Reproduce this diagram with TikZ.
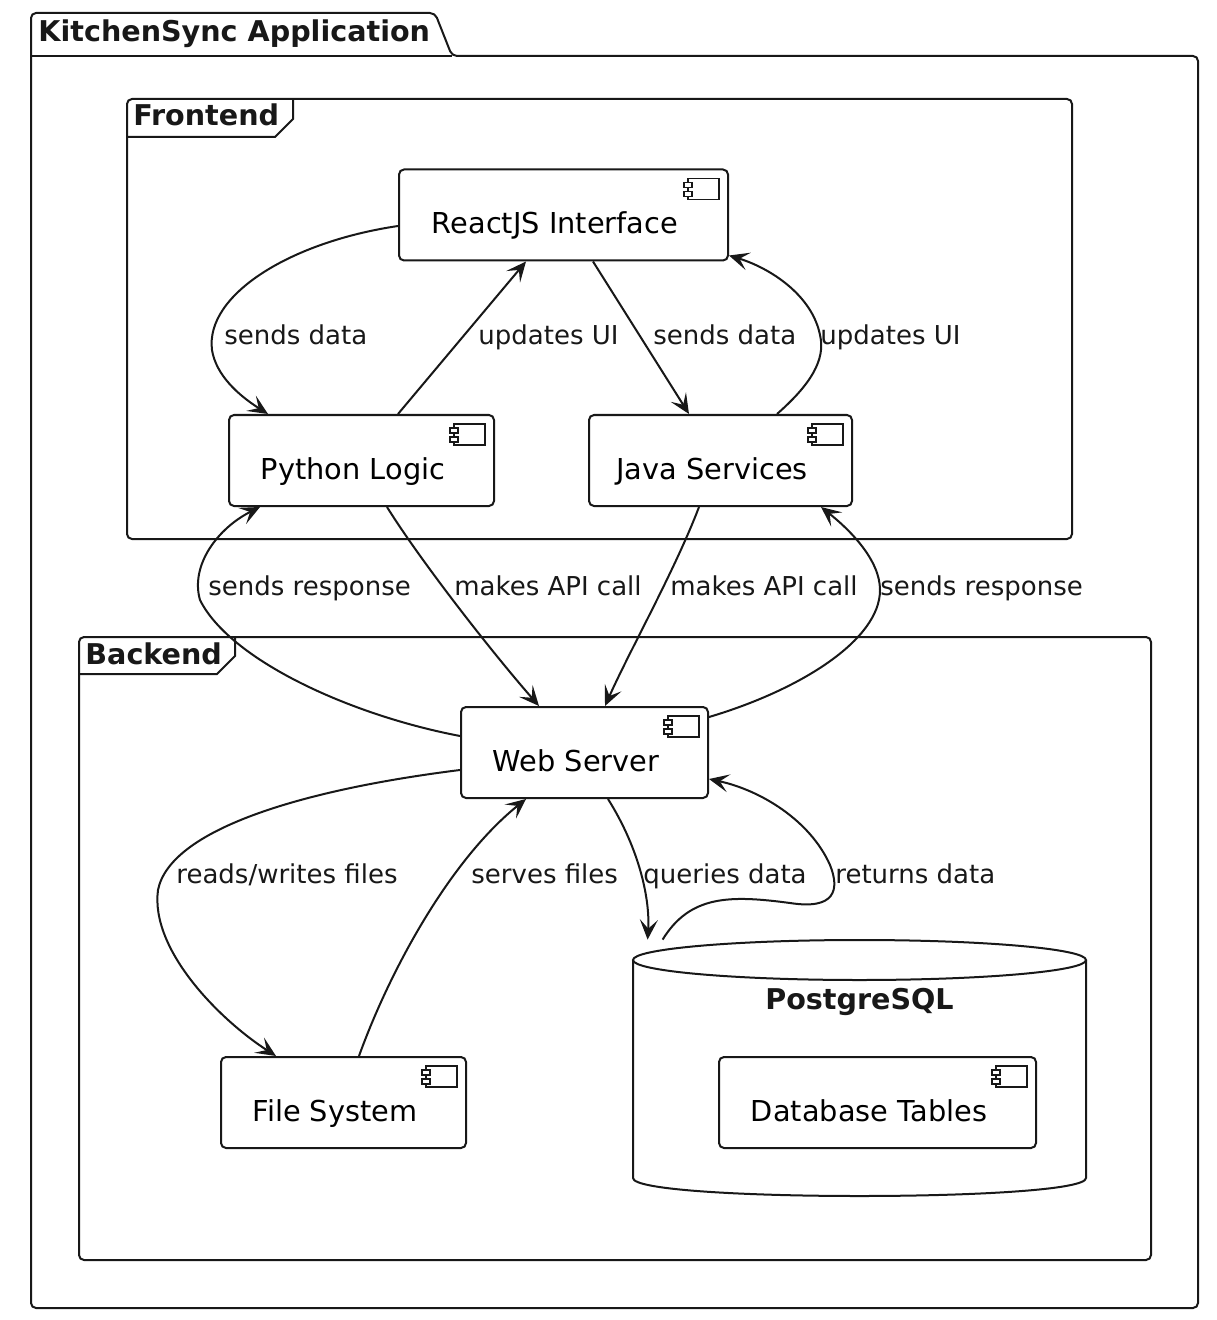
\documentclass[tikz,border=0pt]{standalone}
\usepackage{fontspec}
\setmainfont{DejaVu Sans}
\usetikzlibrary{arrows.meta,calc}
\definecolor{ink}{HTML}{181818}
\newcommand{\iconpad}{\rule{8.5pt}{0pt}}
\begin{document}
\begin{tikzpicture}[x=0.5pt,y=-0.5pt,
  icon/.style={path picture={
    \draw[ink,line width=0.6pt,sharp corners,fill=white] ($(path picture bounding box.north east)+(-40,9)$) rectangle ++(31,21);
    \draw[ink,line width=0.6pt,sharp corners,fill=white] ($(path picture bounding box.north east)+(-44,13)$) rectangle ++(8,5);
    \draw[ink,line width=0.6pt,sharp corners,fill=white] ($(path picture bounding box.north east)+(-44,22)$) rectangle ++(8,5);
  }},
  comp/.style={draw=ink,line width=1pt,fill=white,rounded corners=2.5pt,
    text height=19pt,text depth=0pt,inner sep=0pt,
    font=\fontsize{14.4}{16}\selectfont,icon,minimum height=45.5pt},
  lbl/.style={font=\fontsize{13}{15}\selectfont,anchor=base west,inner sep=0pt,text=ink},
  ttl/.style={font=\fontsize{14.3}{16}\selectfont\bfseries,anchor=base west,inner sep=0pt,text=ink},
  conn/.style={draw=ink,line width=1pt,-{Stealth[length=10pt,width=9pt,inset=4.5pt]}},
  frame/.style={draw=ink,line width=1pt,rounded corners=2.5pt}]
\useasboundingbox (0,0) rectangle (1216,1320);
\fill[white] (0,0) rectangle (1216,1320);

% outer package
\draw[frame] (31,56) -- (31,13) -- (435,13) -- (452,56) -- (1198,56) -- (1198,1308) -- (31,1308) -- cycle;
\draw[ink,line width=1pt] (31,56) -- (452,56);
\node[ttl] (apptitle) at (38,42) {KitchenSync Application};

% frontend frame
\draw[frame] (127,99) rectangle (1072,539);
\draw[ink,line width=1pt] (127,137) -- (275,137) -- (293,119) -- (293,99);
\node[ttl] (fetitle) at (133,126) {Frontend};

% backend frame
\draw[frame] (79,637) rectangle (1151,1260);
\draw[ink,line width=1pt] (79,674) -- (217,674) -- (235,656) -- (235,637);
\node[ttl] (betitle) at (85,664) {Backend};

% database cylinder
\node[minimum width=226.5pt,minimum height=128pt,inner sep=0pt] (pg) at (859.5,1068) {};
\fill[white] (633,960) -- (633,1178) .. controls (633,1202) and (1086,1202) .. (1086,1178) -- (1086,960) -- cycle;
\draw[ink,line width=1pt] (633,960) -- (633,1178) .. controls (633,1202) and (1086,1202) .. (1086,1178) -- (1086,960);
\draw[ink,line width=1pt,fill=white] (859.5,960) ellipse [x radius=113.25pt,y radius=10pt];
\node[font=\fontsize{14.3}{16}\selectfont\bfseries,anchor=base,inner sep=0pt,text=ink] (pgtitle) at (859.5,1009) {PostgreSQL};

% components
\node[comp,minimum width=164.5pt] (react) at (563.5,215) {ReactJS Interface\iconpad};
\node[comp,minimum width=132.5pt] (python) at (361.5,460.5) {Python Logic\iconpad};
\node[comp,minimum width=131.5pt] (java) at (720.5,460.5) {Java Services\iconpad};
\node[comp,minimum width=123.5pt] (web) at (584.5,752.5) {Web Server\iconpad};
\node[comp,minimum width=122.5pt] (files) at (343.5,1102.5) {File System\iconpad};
\node[comp,minimum width=158.5pt] (tables) at (877.5,1102.5) {Database Tables\iconpad};

% connectors
\draw[conn] ($(react.west)+(0,11)$) .. controls (290,242) and (205,295) .. (212,350) .. controls (216,375) and (238,395) .. ($(python.north west)+(40,0)$);
\draw[conn] ($(python.north west)+(170,0)$) -- ($(react.south west)+(128,0)$);
\draw[conn] ($(react.south west)+(195,0)$) -- ($(java.north west)+(101,0)$);
\draw[conn] ($(java.north west)+(189,0)$) .. controls (810,385) and (826,360) .. (820,335) .. controls (812,295) and (770,268) .. ($(react.south east)+(0,-6)$);

\draw[conn] ($(web.north west)+(0,30)$) .. controls (350,715) and (230,660) .. (200,600) .. controls (190,565) and (218,528) .. ($(python.south west)+(32,0)$);
\draw[conn] ($(python.south west)+(159,0)$) .. controls (420,560) and (490,650) .. ($(web.north west)+(79,0)$);
\draw[conn] ($(java.south west)+(111,0)$) .. controls (675,570) and (630,650) .. ($(web.north west)+(145,0)$);
\draw[conn] ($(web.north east)+(0,11)$) .. controls (800,690) and (880,640) .. (880,590) .. controls (880,560) and (850,530) .. ($(java.south east)+(-32,0)$);

\draw[conn] ($(web.south west)+(0,-29)$) .. controls (300,790) and (170,830) .. (158,890) .. controls (150,950) and (220,1020) .. ($(files.north west)+(56,0)$);
\draw[conn] ($(files.north west)+(139,0)$) .. controls (390,970) and (450,860) .. ($(web.south west)+(66,0)$);
\draw[conn] ($(web.south west)+(148,0)$) .. controls (640,850) and (650,900) .. ($(pg.north west)+(15,0)$);
\draw[conn] ($(pg.north west)+(30,0)$) .. controls (690,895) and (730,895) .. (790,903) .. controls (835,910) and (840,890) .. (830,865) .. controls (810,820) and (760,790) .. ($(web.south east)+(0,-20)$);

% labels
\node[lbl] (l1) at (224,345) {sends data};
\node[lbl] (l2) at (478,345) {updates UI};
\node[lbl] (l3) at (653,345) {sends data};
\node[lbl] (l4) at (820,345) {updates UI};
\node[lbl] (l5) at (208,595) {sends response};
\node[lbl] (l6) at (454,595) {makes API call};
\node[lbl] (l7) at (670,595) {makes API call};
\node[lbl] (l8) at (880,595) {sends response};
\node[lbl] (l9) at (176,883) {reads/writes files};
\node[lbl] (l10) at (471,883) {serves files};
\node[lbl] (l11) at (643,883) {queries data};
\node[lbl] (l12) at (835,883) {returns data};
\end{tikzpicture}
\end{document}
